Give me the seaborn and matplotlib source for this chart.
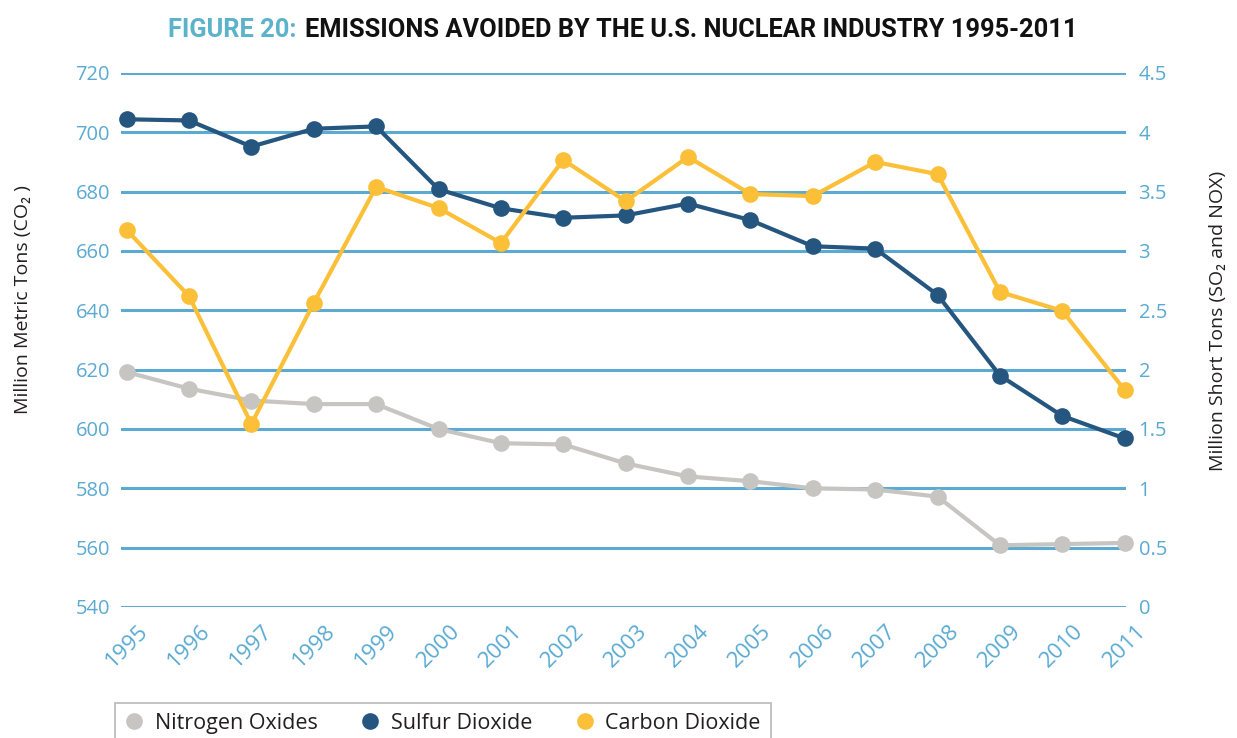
import matplotlib
matplotlib.use('Agg')
import matplotlib.pyplot as plt
import seaborn as sns
from matplotlib.lines import Line2D
from matplotlib.ticker import FuncFormatter

# emissions avoided
years = [1995, 1996, 1997, 1998, 1999, 2000, 2001, 2002, 2003,
         2004, 2005, 2006, 2007, 2008, 2009, 2010, 2011]
co2 = [667.1, 644.8, 601.7, 642.5, 681.6, 674.5, 662.7, 690.7, 676.8,
       691.7, 679.2, 678.5, 690.0, 685.9, 646.2, 639.8, 613.1]   # million metric tons
so2 = [4.11, 4.10, 3.88, 4.03, 4.05, 3.52, 3.36, 3.28, 3.30,
       3.40, 3.26, 3.04, 3.02, 2.63, 1.95, 1.61, 1.42]            # million short tons
nox = [1.98, 1.84, 1.74, 1.71, 1.71, 1.50, 1.38, 1.37, 1.21,
       1.10, 1.06, 1.00, 0.99, 0.93, 0.52, 0.53, 0.54]            # million short tons
right_ticks = [0, 0.5, 1, 1.5, 2, 2.5, 3, 3.5, 4, 4.5]
left_ticks = [540, 560, 580, 600, 620, 640, 660, 680, 700, 720]
series_names = ['Nitrogen Oxides', 'Sulfur Dioxide', 'Carbon Dioxide']

gray = '#C6C5C1'
navy = '#25567F'
gold = '#FBBF38'
gridblue = '#5CA9D1'
tickblue = '#5AAAD2'
teal = '#5BB3CB'
ink = '#231F20'

sns.set_theme(style='white')
plt.rcParams['font.family'] = ['Open Sans', 'DejaVu Sans']

fig = plt.figure(figsize=(12.37, 7.38), dpi=100)
ax = fig.add_axes([121/1237, 1-607/738, 1005/1237, 534/738])
ax2 = ax.twinx()

style = dict(marker='o', markersize=12, markeredgewidth=0, linewidth=3, clip_on=False)
sns.lineplot(x=years, y=nox, ax=ax, color=gray, **style)
sns.lineplot(x=years, y=so2, ax=ax, color=navy, **style)
sns.lineplot(x=years, y=co2, ax=ax2, color=gold, **style)

ax.set_xlim(1994.91, 2011.02)
ax.set_ylim(0, 4.5)
ax2.set_ylim(540, 720)
ax.set_yticks(right_ticks)
ax2.set_yticks(left_ticks)
ax.yaxis.set_major_formatter(FuncFormatter(lambda v, p: '{:g}'.format(v)))

ax.yaxis.tick_right()
ax2.yaxis.tick_left()

ax.grid(axis='y', color=gridblue, linewidth=2.2)
ax.grid(axis='x', visible=False)
ax2.grid(False)
for a in (ax, ax2):
    for s in a.spines.values():
        s.set_visible(False)

ax.set_xticks(years)
ax.set_xticklabels([str(y) for y in years], rotation=45, ha='center')
ax.tick_params(axis='x', length=0, pad=10, labelsize=16, labelcolor=tickblue)
ax.tick_params(axis='y', length=0, pad=9, labelsize=14.5, labelcolor=tickblue)
ax2.tick_params(axis='y', length=0, pad=8, labelsize=14.5, labelcolor=tickblue)

fig.text(23/1237, 1-300/738, 'Million Metric Tons (CO₂ )', rotation=90,
         ha='center', va='center', fontsize=14, color=ink)
fig.text(1218/1237, 1-321/738, 'Million Short Tons (SO₂ and NOX)', rotation=90,
         ha='center', va='center', fontsize=14, color=ink)

fig.text(297/1237, 1-37/738, 'FIGURE 20:', ha='right', va='baseline',
         family=['Roboto', 'DejaVu Sans'], fontweight='bold', fontsize=18.3, color=teal)
fig.text(305/1237, 1-37/738, 'EMISSIONS AVOIDED BY THE U.S. NUCLEAR INDUSTRY 1995-2011',
         ha='left', va='baseline', family=['Roboto', 'DejaVu Sans'], fontweight='bold',
         fontsize=18.3, color='#111111')

handles = [Line2D([], [], linestyle='none', marker='o', markersize=12,
                  markeredgewidth=0, color=c) for c in (gray, navy, gold)]
leg = fig.legend(handles, series_names, loc='upper left',
                 bbox_to_anchor=(115/1237, 1-703/738), borderaxespad=0, ncol=3,
                 frameon=True, fancybox=False, fontsize=15.5, handlelength=0.9,
                 handletextpad=0.5, columnspacing=2.0, borderpad=0.45, labelcolor=ink)
leg.get_frame().set_edgecolor('#AEAEAE')
leg.get_frame().set_linewidth(1.3)

fig.savefig('out.png', dpi=100)
